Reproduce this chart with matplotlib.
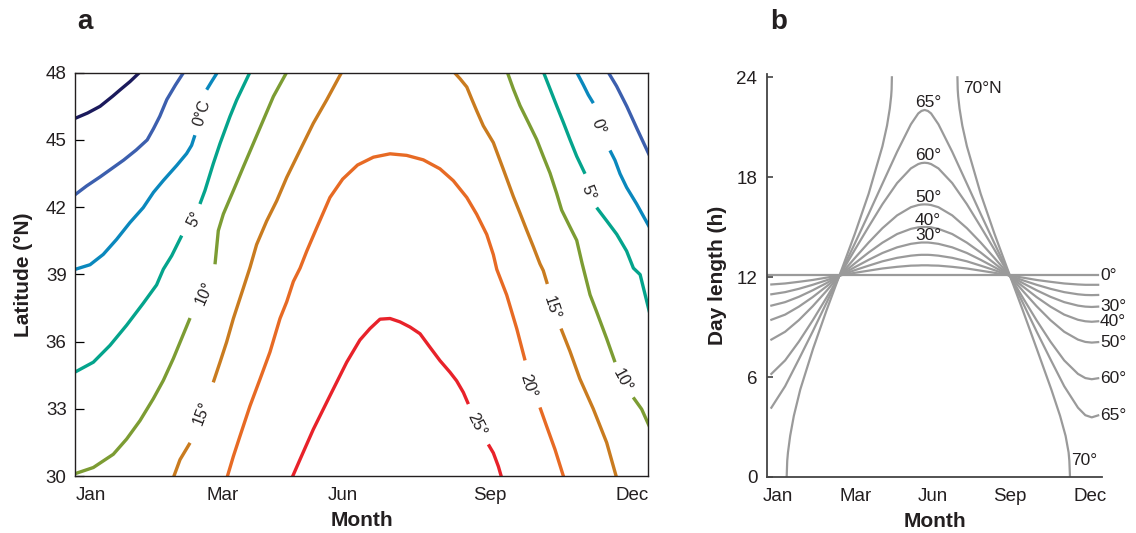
import numpy as np
import matplotlib
matplotlib.use('Agg')
import matplotlib.pyplot as plt

plt.rcParams['font.family'] = ['Liberation Sans', 'DejaVu Sans']

nan = np.nan
TEXT = '#231f20'

# ---- panel a: isotherms (day of year, latitude); nan = label gap ----
LEVELS = [-10, -5, 0, 5, 10, 15, 20, 25]
LEVEL_COLORS = ['#1b1a5c', '#3c5fae', '#0a88bd', '#04a48c', '#7c9c33', '#c97b1f', '#e76a24', '#e8222a']

ISO_M10_DAY = [-1, 8, 16, 24, 29, 35, 42.5]
ISO_M10_LAT = [45.93, 46.2, 46.5, 46.95, 47.25, 47.6, 48.1]

ISO_M5_DAY_A = [-1, 7.5, 16, 22, 31, 39, 46, 50, 54, 58.5, 64, 70]
ISO_M5_LAT_A = [42.5, 42.95, 43.35, 43.65, 44.1, 44.55, 45.0, 45.5, 46.05, 46.8, 47.45, 48.1]
ISO_M5_DAY_B = [339, 345, 351.5, 358, 366]
ISO_M5_LAT_B = [48.1, 47.4, 46.5, 45.5, 44.3]

ISO_0_DAY_A = [-1, 9.6, 18, 26.5, 35, 43.5, 50, 56.3, 64.8, 71.1, 74.3, 76.4, nan, 83.9, 87.1, 91.5]
ISO_0_LAT_A = [39.2, 39.43, 39.89, 40.56, 41.31, 41.98, 42.66, 43.19, 43.86, 44.39, 44.76, 45.21, nan, 47.24, 47.61, 48.1]
ISO_0_DAY_B = [319, 323.8, 327, 330.2, nan, 340.8, 344, 347.2, 351.4, 357.8, 366]
ISO_0_LAT_B = [48.1, 47.46, 47.01, 46.64, nan, 44.53, 44.09, 43.49, 42.88, 42.14, 41.1]

ISO_5_DAY_A = [-1, 11.7, 22.3, 32.9, 43.5, 52, 56.3, 61.6, 68, nan, 79.6, 82.8, 88.1, 92.4, 98.7, 103, 112]
ISO_5_LAT_A = [34.6, 35.08, 35.83, 36.73, 37.71, 38.53, 39.23, 39.83, 40.73, nan, 42.14, 42.74, 43.94, 44.84, 46.04, 46.78, 48.1]
ISO_5_DAY_B = [298, 302.6, 306.8, 311.1, 315.3, 319.6, 324.9, nan, 332.3, 338.7, 345.1, 351.4, 355.7, 360, 366]
ISO_5_LAT_B = [48.1, 47.28, 46.53, 45.78, 45.02, 44.27, 43.49, nan, 41.98, 41.39, 40.79, 40.04, 39.28, 38.99, 37.3]

ISO_10_DAY_A = [-1, 11.7, 24.4, 32.9, 41.4, 49.9, 56.3, 62.7, 68, 73.3, nan,
                89.2, 91.3, 94.5, 100.9, 107.2, 113.6, 120, 126.4, 135.5]
ISO_10_LAT_A = [30.08, 30.38, 30.97, 31.65, 32.47, 33.45, 34.27, 35.25, 36.15, 37.05, nan,
                39.45, 40.95, 41.69, 42.74, 43.79, 44.84, 45.89, 46.94, 48.1]
ISO_10_DAY_B = [275, 279.2, 283.5, 288.8, 294.1, 298.3, 302.6, 306.8, 310, 315.3, 319.6, 323,
                328.1, 332.3, 338.7, 344, nan, 355.6, 361, 366]
ISO_10_LAT_B = [48.1, 47.28, 46.53, 45.78, 45.02, 44.27, 43.52, 42.62, 41.87, 41.12, 40.52, 39.5,
                38.09, 37.33, 36.13, 35.08, nan, 33.51, 32.98, 32.2]

ISO_15_DAY_A = [62.0, 66.9, 73.3, nan, 88.1, 92.4, 96.6, 100.9, 107.2, 111.5, 115.7, 122.1,
                128.5, 134.9, 143.3, 151.8, 160.3, 170.5]
ISO_15_LAT_A = [29.8, 30.73, 31.48, nan, 34.18, 35.08, 35.98, 37.03, 38.38, 39.31, 40.33, 41.38,
                42.28, 43.33, 44.53, 45.74, 46.78, 48.1]
ISO_15_DAY_B = [240.5, 245.3, 249.6, 252.7, 255.9, 260.1, 266.5, 272.9, 279.2, 283.5, 287.7, 292,
                296.2, 298.3, 300.9, nan, 309.6, 315.3, 321.6, 330.2, 338.7, 345.5]
ISO_15_LAT_B = [48.1, 47.73, 47.36, 46.83, 46.3, 45.63, 44.88, 43.68, 42.48, 41.73, 40.98, 40.23,
                39.47, 39.17, 38.57, nan, 36.58, 35.57, 34.34, 32.99, 31.49, 29.8]

ISO_20_DAY = [96.3, 100.9, 105.1, 111.5, 117.9, 124.2, 130.6, 134.9, 139.1, 143.4, 147.6, 154,
              162.4, 170.5, 180, 190.1, 200.7, 211.3, 221.9, 232.5, 241, 249.6, 255.9, 262.3,
              266.5, 268.7, 275, 281.4, 286.7, nan, 296.2, 300.4, 305.8, 312]
ISO_20_LAT = [29.8, 30.88, 31.78, 33.13, 34.33, 35.53, 37.03, 37.78, 38.68, 39.28, 40.03, 41.08,
              42.43, 43.25, 43.88, 44.23, 44.38, 44.31, 44.11, 43.71, 43.18, 42.43, 41.68, 40.78,
              39.88, 39.22, 38.08, 36.58, 35.16, nan, 33.06, 32.23, 31.18, 29.8]

ISO_25_DAY = [137.5, 143.3, 151.8, 162.4, 173.1, 181.5, 187.9, 194.3, 200.7, 207, 213.4, 219.8,
              226.1, 232.5, 238.9, 243.1, 247.4, 250.6, nan, 263.3, 266.5, 269.7, 272.3]
ISO_25_LAT = [29.8, 30.73, 32.08, 33.58, 35.08, 36.07, 36.58, 37.0, 37.03, 36.88, 36.65, 36.35,
              35.75, 35.15, 34.63, 34.25, 33.73, 33.21, nan, 31.41, 31.03, 30.43, 29.8]

MONTH_LABELS = ['Jan', 'Mar', 'Jun', 'Sep', 'Dec']
MONTH_POS_A = [9.9, 94.3, 170.7, 264.4, 354.6]
LAT_TICKS = [30, 33, 36, 39, 42, 45, 48]

# ---- panel b: day length (h) by day of year ----
DAYS_B = [8, 23, 38, 53, 68, 83, 99, 114, 129, 145, 160, 168, 171.5, 175, 178.5, 182, 190, 205,
          221, 236, 251, 267, 282, 297, 312, 327, 342, 350, 357, 364]
HRS_10 = [11.56, 11.62, 11.72, 11.83, 11.97, 12.11, 12.26, 12.39, 12.52, 12.62, 12.69, 12.70, 12.71, 12.71,
          12.71, 12.70, 12.69, 12.62, 12.52, 12.39, 12.26, 12.11, 11.97, 11.83, 11.72, 11.62, 11.56, 11.54,
          11.54, 11.54]
HRS_20 = [10.97, 11.10, 11.30, 11.54, 11.81, 12.10, 12.42, 12.69, 12.95, 13.16, 13.29, 13.33, 13.34, 13.34,
          13.34, 13.33, 13.29, 13.16, 12.95, 12.69, 12.42, 12.10, 11.81, 11.54, 11.30, 11.10, 10.97, 10.93,
          10.92, 10.93]
HRS_30 = [10.29, 10.50, 10.82, 11.21, 11.64, 12.11, 12.60, 13.04, 13.45, 13.79, 14.00, 14.06, 14.08, 14.08,
          14.08, 14.06, 14.00, 13.79, 13.45, 13.04, 12.60, 12.11, 11.64, 11.21, 10.82, 10.50, 10.29, 10.23,
          10.21, 10.23]
HRS_40 = [9.44, 9.75, 10.23, 10.80, 11.44, 12.11, 12.83, 13.48, 14.07, 14.59, 14.90, 14.99, 15.01, 15.01,
          15.01, 14.99, 14.90, 14.59, 14.07, 13.48, 12.83, 12.11, 11.44, 10.80, 10.23, 9.75, 9.44, 9.35,
          9.32, 9.35]
HRS_50 = [8.25, 8.72, 9.42, 10.25, 11.17, 12.13, 13.15, 14.08, 14.94, 15.71, 16.20, 16.33, 16.36, 16.37,
          16.36, 16.33, 16.20, 15.71, 14.94, 14.08, 13.15, 12.13, 11.17, 10.25, 9.42, 8.72, 8.25, 8.11,
          8.07, 8.10]
HRS_60 = [6.19, 7.00, 8.13, 9.40, 10.76, 12.15, 13.65, 15.03, 16.38, 17.65, 18.53, 18.79, 18.85, 18.87,
          18.85, 18.79, 18.53, 17.65, 16.38, 15.03, 13.65, 12.15, 10.76, 9.40, 8.13, 7.00, 6.19, 5.94,
          5.87, 5.93]
HRS_65 = [4.16, 5.45, 7.07, 8.73, 10.45, 12.18, 14.03, 15.80, 17.61, 19.53, 21.18, 21.83, 21.98, 22.04,
          21.98, 21.83, 21.18, 19.53, 17.61, 15.80, 14.03, 12.18, 10.45, 8.73, 7.07, 5.45, 4.16, 3.71,
          3.58, 3.70]
EQ_DAY = [3.5, 363.5]
EQ_HRS = [12.12, 12.12]
H70_DAY_A = [24.7, 25.3, 26.1, 28.5, 32.5, 39.5, 53.5, 68, 83, 99, 114, 129, 134, 137, 138.5, 139, 139.3]
H70_HRS_A = [0, 0.97, 1.47, 2.47, 3.67, 5.25, 7.71, 9.99, 12.22, 14.61, 17.01, 19.86, 21.10, 22.12, 22.86, 23.27, 24]
H70_DAY_B = [210.7, 211, 211.5, 213, 216, 221, 236, 251, 267, 282, 297, 313, 322.5, 328.5, 331.8, 332.6, 333.3]
H70_HRS_B = [24, 23.27, 22.86, 22.12, 21.10, 19.86, 17.01, 14.61, 12.22, 9.99, 7.71, 5.25, 3.67, 2.47, 1.47, 0.97, 0]

MONTH_POS_B = [15.3, 99.9, 184.1, 268.0, 355.1]
HOUR_TICKS = [0, 6, 12, 18, 24]


fig = plt.figure(figsize=(11.36, 5.33), dpi=100)

# ---------------- panel a ----------------
ax = fig.add_axes([0.0660, 0.1069, 0.5044, 0.7567])
iso = [
    (ISO_M10_DAY, ISO_M10_LAT, -10),
    (ISO_M5_DAY_A, ISO_M5_LAT_A, -5), (ISO_M5_DAY_B, ISO_M5_LAT_B, -5),
    (ISO_0_DAY_A, ISO_0_LAT_A, 0), (ISO_0_DAY_B, ISO_0_LAT_B, 0),
    (ISO_5_DAY_A, ISO_5_LAT_A, 5), (ISO_5_DAY_B, ISO_5_LAT_B, 5),
    (ISO_10_DAY_A, ISO_10_LAT_A, 10), (ISO_10_DAY_B, ISO_10_LAT_B, 10),
    (ISO_15_DAY_A, ISO_15_LAT_A, 15), (ISO_15_DAY_B, ISO_15_LAT_B, 15),
    (ISO_20_DAY, ISO_20_LAT, 20),
    (ISO_25_DAY, ISO_25_LAT, 25),
]
for d, lat, lev in iso:
    ax.plot(d, lat, color=LEVEL_COLORS[LEVELS.index(lev)], lw=2.4,
            solid_capstyle='butt', solid_joinstyle='round')

# contour labels: (text, day, lat, rotation)
for txt, d, lat, rot in [('0°C', 80.7, 46.19, 73), ('5°', 76.4, 41.46, 63),
                         ('10°', 82.8, 38.16, 66), ('15°', 80.7, 32.83, 69),
                         ('0°', 333.3, 45.58, -70), ('5°', 327.0, 42.66, -70),
                         ('15°', 303.6, 37.48, -72), ('20°', 288.8, 34.03, -72),
                         ('25°', 255.9, 32.31, -63), ('10°', 348.8, 34.26, -62)]:
    ax.text(d, lat, txt, rotation=rot, rotation_mode='anchor', ha='center',
            va='center', fontsize=11.5, color=TEXT)

ax.set_xlim(0, 365)
ax.set_ylim(30, 48)
ax.set_yticks(LAT_TICKS)
ax.set_xticks(MONTH_POS_A, MONTH_LABELS)
ax.tick_params(axis='y', direction='in', length=6.5, width=0.9, labelsize=13.5,
               pad=6, labelcolor=TEXT)
ax.tick_params(axis='x', length=0, labelsize=13.5, pad=8, labelcolor=TEXT)
for s in ax.spines.values():
    s.set_linewidth(1.0)
    s.set_color(TEXT)
ax.set_xlabel('Month', fontsize=15, fontweight='bold', labelpad=5, color=TEXT)
ax.set_ylabel('Latitude (°N)', fontsize=15, fontweight='bold', labelpad=9, color=TEXT)

# ---------------- panel b ----------------
bx = fig.add_axes([0.6752, 0.1051, 0.2949, 0.7561])
GRAY = '#9a9a9a'
bx.plot(EQ_DAY, EQ_HRS, color=GRAY, lw=1.6)
for hrs in [HRS_10, HRS_20, HRS_30, HRS_40, HRS_50, HRS_60, HRS_65]:
    bx.plot(DAYS_B, hrs, color=GRAY, lw=1.6)
bx.plot(H70_DAY_A, H70_HRS_A, color=GRAY, lw=1.6)
bx.plot(H70_DAY_B, H70_HRS_B, color=GRAY, lw=1.6)

# peak labels
for txt, hrs in [('65°', HRS_65), ('60°', HRS_60), ('50°', HRS_50),
                 ('40°', HRS_40), ('30°', HRS_30)]:
    bx.text(178.6, max(hrs) + 0.42, txt, ha='center', va='center',
            fontsize=12.5, color=TEXT)
# end labels
for txt, hrs in [('0°', EQ_HRS), ('30°', HRS_30), ('40°', HRS_40),
                 ('50°', HRS_50), ('60°', HRS_60), ('65°', HRS_65)]:
    bx.text(366, hrs[-1], txt, ha='left', va='center', fontsize=12.5, color=TEXT)
bx.text(216.8, 23.3, '70°N', ha='left', va='center', fontsize=12.5, color=TEXT)
bx.text(334.4, 0.96, '70°', ha='left', va='center', fontsize=12.5, color=TEXT)

bx.set_xlim(3.3, 368.2)
bx.set_ylim(0, 24.2)
bx.set_yticks(HOUR_TICKS)
bx.set_xticks(MONTH_POS_B, MONTH_LABELS)
bx.spines['top'].set_visible(False)
bx.spines['right'].set_visible(False)
for s in ['left', 'bottom']:
    bx.spines[s].set_linewidth(1.3)
    bx.spines[s].set_color('#444444')
bx.tick_params(axis='y', direction='in', length=4.5, width=1.2, labelsize=13.5,
               pad=7, labelcolor=TEXT, color='#444444')
bx.tick_params(axis='x', length=0, labelsize=13.5, pad=8, labelcolor=TEXT)
bx.set_xlabel('Month', fontsize=15, fontweight='bold', labelpad=5, color=TEXT)
bx.set_ylabel('Day length (h)', fontsize=15, fontweight='bold', labelpad=7, color=TEXT)

fig.text(77 / 1136, 1 - 29.3 / 533, 'a', fontsize=20, fontweight='bold',
         va='baseline', color=TEXT)
fig.text(770 / 1136, 1 - 29.3 / 533, 'b', fontsize=20, fontweight='bold',
         va='baseline', color=TEXT)

fig.savefig('out.png', dpi=100)
